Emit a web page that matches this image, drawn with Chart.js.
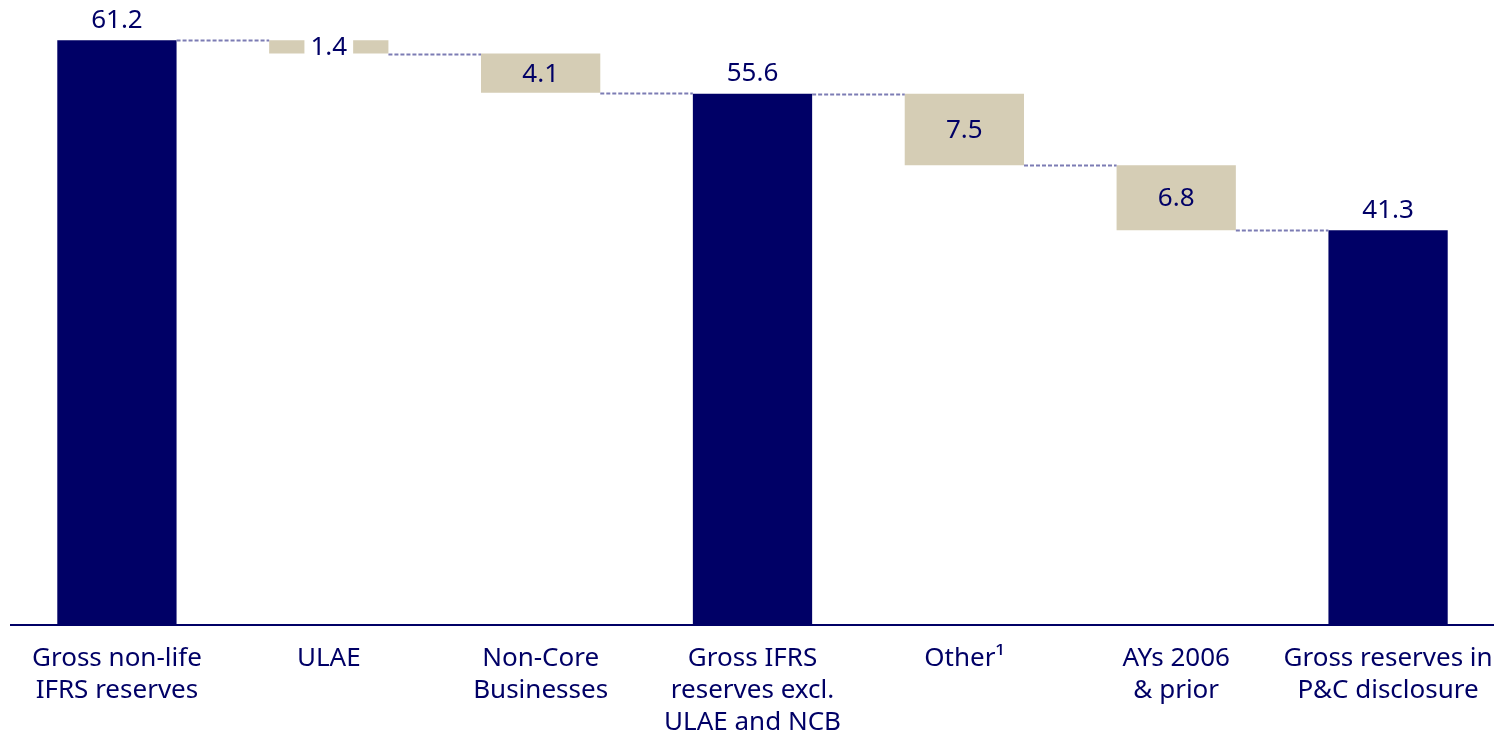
<!DOCTYPE html>
<html>
<head>
<meta charset="utf-8">
<script src="https://cdn.jsdelivr.net/npm/chart.js@4"></script>
<style>
  html, body { margin: 0; padding: 0; background: #fff; }
  #wrap { width: 1494px; height: 735px; }
</style>
</head>
<body>
<div id="wrap"><canvas id="chart"></canvas></div>
<script>
// categories and values (bn)
const categories = [
  ['Gross non-life', 'IFRS reserves'],
  ['ULAE'],
  ['Non-Core', 'Businesses'],
  ['Gross IFRS', 'reserves excl.', 'ULAE and NCB'],
  ['Other\u00b9'],
  ['AYs 2006', '& prior'],
  ['Gross reserves in', 'P&C disclosure']
];
const values = [61.2, -1.4, -4.1, 55.6, -7.5, -6.8, 41.3];
const isTotal = [true, false, false, true, false, false, true];

const NAVY = '#000066';
const BEIGE = '#d5cdb5';
const FONT = '"Noto Sans", "Open Sans", sans-serif';

// build floating ranges for the waterfall
let running = 0;
const ranges = values.map((v, i) => {
  if (isTotal[i]) { running = v; return [0, v]; }
  const start = running;
  running = running + v;
  return [running, start];
});

const waterfallPlugin = {
  id: 'waterfall',
  afterDatasetsDraw(chart) {
    const ctx = chart.ctx;
    const meta = chart.getDatasetMeta(0);
    const y = chart.scales.y;
    ctx.save();
    // dashed connectors
    ctx.strokeStyle = '#7c7cb4';
    ctx.lineWidth = 1.8;
    ctx.setLineDash([4, 2]);
    for (let i = 0; i < meta.data.length - 1; i++) {
      const a = meta.data[i].getProps(['x', 'width'], true);
      const b = meta.data[i + 1].getProps(['x', 'width'], true);
      const lvl = isTotal[i] ? ranges[i][1] : ranges[i][0];
      const py = Math.round(y.getPixelForValue(lvl)) + 0.5;
      ctx.beginPath();
      ctx.moveTo(a.x + a.width / 2, py);
      ctx.lineTo(b.x - b.width / 2, py);
      ctx.stroke();
    }
    ctx.setLineDash([]);
    // value labels
    ctx.font = '26px ' + FONT;
    ctx.textAlign = 'center';
    ctx.textBaseline = 'middle';
    meta.data.forEach((bar, i) => {
      const p = bar.getProps(['x', 'y', 'base'], true);
      const txt = Math.abs(values[i]).toFixed(1);
      let ty;
      if (isTotal[i]) {
        ty = Math.min(p.y, p.base) - 21;
      } else {
        ty = (p.y + p.base) / 2;
        const h = Math.abs(p.base - p.y);
        if (h < 30) {
          const w = ctx.measureText(txt).width + 12;
          ctx.fillStyle = '#fff';
          ctx.fillRect(p.x - w / 2, ty - 9, w, 18);
        }
      }
      ctx.fillStyle = NAVY;
      ctx.fillText(txt, p.x, ty + 1);
    });
    ctx.restore();
  }
};

new Chart(document.getElementById('chart'), {
  type: 'bar',
  data: {
    labels: categories,
    datasets: [{
      data: ranges,
      backgroundColor: isTotal.map(t => t ? NAVY : BEIGE),
      borderWidth: 0,
      borderSkipped: false,
      barPercentage: 0.563,
      categoryPercentage: 1
    }]
  },
  options: {
    responsive: true,
    maintainAspectRatio: false,
    animation: false,
    layout: { padding: { left: 11, right: 0, top: 0, bottom: 0 } },
    plugins: {
      legend: { display: false },
      tooltip: { enabled: false }
    },
    scales: {
      x: {
        grid: { display: false, drawTicks: false },
        border: { display: true, color: NAVY, width: 2 },
        ticks: {
          color: NAVY,
          font: { family: FONT, size: 26, lineHeight: 1.23 },
          padding: 18,
          maxRotation: 0,
          autoSkip: false
        },
        afterFit(scale) {
          scale.height = 110;
          scale.paddingLeft = 0;
          scale.paddingRight = 0;
        }
      },
      y: {
        display: false,
        min: 0,
        max: 65.4
      }
    }
  },
  plugins: [waterfallPlugin]
});
</script>
</body>
</html>
